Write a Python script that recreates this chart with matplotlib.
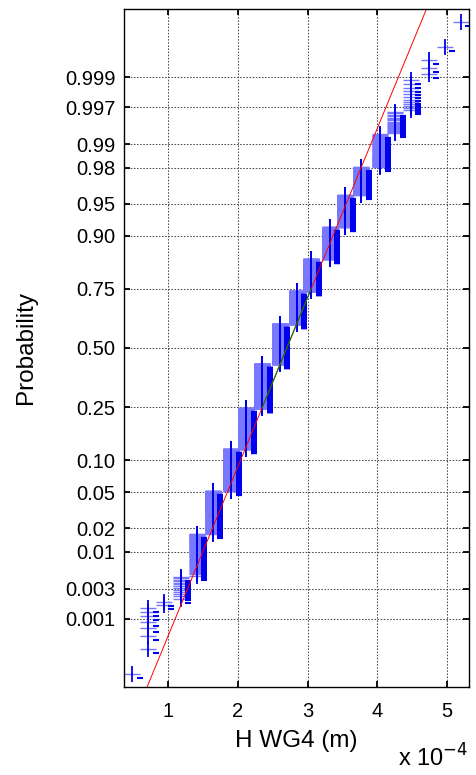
"""
Normal probability plot of wave height at gauge WG4.
"""

from statistics import NormalDist

import matplotlib
matplotlib.use('Agg')  # Non-interactive backend
import matplotlib.pyplot as plt
import matplotlib.transforms as mtransforms
import numpy as np

plt.rcParams['font.family'] = ['Liberation Sans', 'DejaVu Sans']

# Discrete height levels (x 1e-4 m) and how many samples sit on each level
height_levels = [0.48, 0.71, 0.93, 1.18, 1.41, 1.64, 1.90, 2.12, 2.35, 2.60, 2.84,
                 3.05, 3.32, 3.54, 3.77, 4.04, 4.26, 4.48, 4.74, 4.97, 5.20]
level_counts = [1, 7, 2, 13, 62, 173, 366, 606, 909, 901, 670,
                515, 356, 217, 105, 61, 19, 12, 3, 1, 1]

prob_ticks = [0.001, 0.003, 0.01, 0.02, 0.05, 0.10, 0.25, 0.50,
              0.75, 0.90, 0.95, 0.98, 0.99, 0.997, 0.999]
prob_labels = ['0.001', '0.003', '0.01', '0.02', '0.05', '0.10', '0.25', '0.50',
               '0.75', '0.90', '0.95', '0.98', '0.99', '0.997', '0.999']
x_ticks = [1, 2, 3, 4, 5]

nd = NormalDist()

# Build sorted sample and plotting positions like normplot
x = np.repeat(height_levels, level_counts)
n = len(x)
p = (np.arange(1, n + 1) - 0.5) / n
z = np.array([nd.inv_cdf(v) for v in p])

# Reference line through the quartiles
q1, q3 = np.percentile(x, [25, 75])
z1, z3 = nd.inv_cdf(0.25), nd.inv_cdf(0.75)
slope = (z3 - z1) / (q3 - q1)
x_ends = np.array([x.min(), x.max()])
z_ends = z1 + slope * (x_ends - q1)

fig = plt.figure(figsize=(4.77, 7.75), dpi=100)
ax = fig.add_axes([0.26, 0.1135, 0.7233, 0.875])

# Markers: '+' split into a light horizontal part and a dark vertical part,
# plus the small dark dash that the original rendering shows to the right
ax.plot(x, z, linestyle='none', marker='_', markersize=11,
        markeredgewidth=1.0, color='#7878ff')
ax.plot(x, z, linestyle='none', marker='|', markersize=11,
        markeredgewidth=1.3, color='#0000ee')
dash_shift = ax.transData + mtransforms.ScaledTranslation(
    0.075, -0.04, fig.dpi_scale_trans)
ax.plot(x, z, linestyle='none', marker='_', markersize=4,
        markeredgewidth=1.5, color='#0000ee', transform=dash_shift)

ax.plot(x_ends, z_ends, color='red', linewidth=0.7)
ax.plot([q1, q3], [z1, z3], color='#008000', linewidth=0.8)

# Limits
xr = x.max() - x.min()
ax.set_xlim(x.min() - 0.025 * xr, x.max() + 0.025 * xr)
zr = z.max() - z.min()
ax.set_ylim(z.min() - 0.02 * zr, z.max() + 0.02 * zr)

ax.set_yticks([nd.inv_cdf(v) for v in prob_ticks])
ax.set_yticklabels(prob_labels)
ax.set_xticks(x_ticks)

ax.tick_params(direction='in', top=True, right=True, length=4, width=1.3,
               labelsize=14.5, colors='black')
ax.tick_params(axis='x', pad=11)
ax.tick_params(axis='y', pad=6)
for s in ax.spines.values():
    s.set_linewidth(1.0)

ax.grid(True, linestyle=(0, (1.5, 1.5)), color='0.3', linewidth=0.75)
ax.set_axisbelow(True)

ax.set_xlabel('H WG4 (m)', fontsize=17.5, labelpad=6)
ax.set_ylabel('Probability', fontsize=17.5, labelpad=20)

fig.text(468 / 477, 1 - 767 / 775, r'x 10$^{-4}$', fontsize=17,
         ha='right', va='baseline')

plt.savefig('out.png', dpi=100, facecolor='white')
plt.close(fig)
